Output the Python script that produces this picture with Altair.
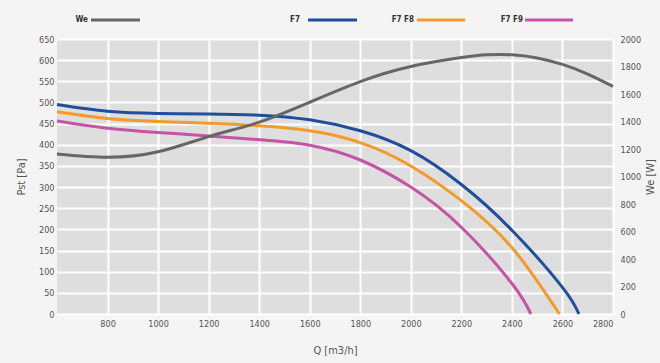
import altair as alt
import pandas as pd

# Pressure curves Pst [Pa] vs Q [m3/h]
Q_F7 = [600, 800, 1000, 1200, 1400, 1600, 1800, 2000, 2200, 2400, 2600, 2665]
P_F7 = [495, 479, 474, 473, 470, 459, 433, 386, 306, 198, 63, 0]
Q_F8 = [600, 800, 1000, 1200, 1400, 1600, 1800, 2000, 2200, 2400, 2588]
P_F8 = [478, 462, 455, 451, 445, 433, 405, 350, 268, 157, 0]
Q_F9 = [600, 800, 1000, 1200, 1400, 1600, 1800, 2000, 2200, 2400, 2475]
P_F9 = [456, 439, 429, 421, 412, 399, 364, 300, 205, 72, 0]
# Power We [W] vs Q
Q_WE = [600, 800, 1000, 1200, 1400, 1600, 1800, 2000, 2200, 2300, 2400, 2500, 2600, 2700, 2800]
W_WE = [1164, 1140, 1180, 1290, 1395, 1540, 1690, 1800, 1865, 1885, 1885, 1862, 1815, 1745, 1655]

SERIES = ["F7", "F7 F8", "F7 F9"]
COLORS = ["#1f4e9c", "#f39a2b", "#c454a6"]
WE_COLOR = "#666666"

X_TICKS = [800, 1000, 1200, 1400, 1600, 1800, 2000, 2200, 2400, 2600, 2800]
Y_TICKS = list(range(0, 651, 50))
W_TICKS = list(range(0, 2001, 200))

FONT = "Liberation Sans Narrow, DejaVu Sans Condensed, Roboto, sans-serif"

rows = []
for name, qs, ps in [("F7", Q_F7, P_F7), ("F7 F8", Q_F8, P_F8), ("F7 F9", Q_F9, P_F9)]:
    for q, p in zip(qs, ps):
        rows.append({"series": name, "Q": q, "P": p})
df_p = pd.DataFrame(rows)
df_w = pd.DataFrame({"Q": Q_WE, "W": W_WE})

x_enc = alt.X(
    "Q:Q",
    scale=alt.Scale(domain=[600, 2800], nice=False, zero=False),
    axis=alt.Axis(
        values=X_TICKS, title="Q [m3/h]", grid=True, gridColor="white", gridWidth=2,
        ticks=False, domain=False, labelPadding=5, titlePadding=16, format="d",
        labelFontSize=9, titleFontSize=11, labelColor="#555", titleColor="#555",
        labelFont=FONT, titleFont=FONT, titleFontWeight="normal",
    ),
)

pressure = alt.Chart(df_p).mark_line(strokeWidth=3, interpolate="natural").encode(
    x=x_enc,
    y=alt.Y(
        "P:Q",
        scale=alt.Scale(domain=[0, 650], nice=False),
        axis=alt.Axis(
            values=Y_TICKS, title="Pst [Pa]", grid=True, gridColor="white", gridWidth=2,
            ticks=False, domain=False, labelPadding=3, titlePadding=12,
            labelFontSize=9, titleFontSize=11, labelColor="#555", titleColor="#555",
            labelFont=FONT, titleFont=FONT, titleFontWeight="normal",
        ),
    ),
    color=alt.Color("series:N", scale=alt.Scale(domain=SERIES, range=COLORS), legend=None),
    detail="series:N",
)

power = alt.Chart(df_w).mark_line(strokeWidth=3, interpolate="natural", color=WE_COLOR).encode(
    x=x_enc,
    y=alt.Y(
        "W:Q",
        scale=alt.Scale(domain=[0, 2000], nice=False),
        axis=alt.Axis(
            orient="right", values=W_TICKS, title="We [W]", grid=False, format="d",
            ticks=False, domain=False, labelPadding=7, titlePadding=15, titleAngle=270,
            labelFontSize=9, titleFontSize=11, labelColor="#555", titleColor="#555",
            labelFont=FONT, titleFont=FONT, titleFontWeight="normal",
        ),
    ),
)

# manual legend at top
dummy = pd.DataFrame({"a": [0]})
LEG_NAMES = ["We"] + SERIES
LEG_COLORS = [WE_COLOR] + COLORS
LEG_TEXT_END = [31, 243, 357, 466]
LEG_LINE = [(34, 83), (251, 300), (360, 408), (468, 516)]
LEG_Y = -19

legend_layers = []
for name, col, tx, (l0, l1) in zip(LEG_NAMES, LEG_COLORS, LEG_TEXT_END, LEG_LINE):
    legend_layers.append(
        alt.Chart(dummy).mark_text(
            align="right", baseline="middle", fontSize=8, fontWeight="bold",
            font=FONT, color="#333"
        ).encode(x=alt.value(tx), y=alt.value(LEG_Y), text=alt.value(name))
    )
    legend_layers.append(
        alt.Chart(dummy).mark_rule(strokeWidth=3, color=col).encode(
            x=alt.value(l0), x2=alt.value(l1), y=alt.value(LEG_Y)
        )
    )

chart = alt.layer(pressure, power, *legend_layers).resolve_scale(y="independent").properties(
    width=556,
    height=275,
    autosize=alt.AutoSizeParams(type="none"),
    padding={"left": 57, "top": 39, "right": 47, "bottom": 49},
    background="#f4f4f4",
).configure_view(fill="#dedede", stroke=None)

chart.save("out.html", embed_options={"renderer": "svg", "actions": False})
